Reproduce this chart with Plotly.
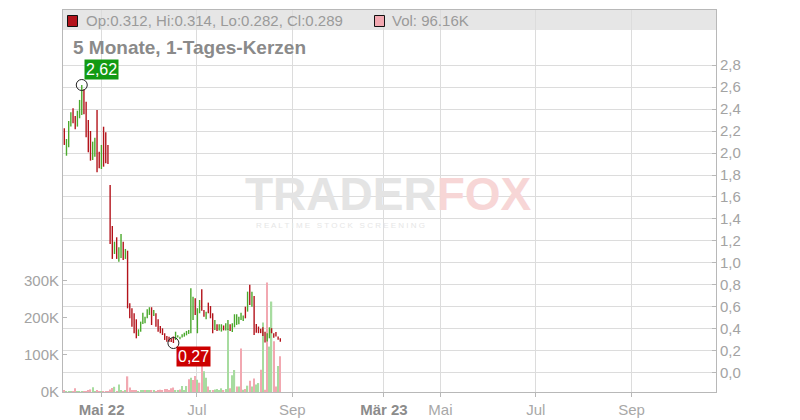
import plotly.graph_objects as go

# ---------------- data ----------------
open_ = [2.20, 2.00, 2.10, 2.26, 2.39, 2.32, 2.25, 2.33, 2.36, 2.57,
         2.45, 2.28, 2.18, 1.95, 1.98, 2.37, 2.00, 1.87, 2.22, 2.17,
         2.06, 1.70, 1.32, 1.09, 1.22, 1.02, 1.06, 1.18, 1.04, 1.10,
         0.62, 0.58, 0.53, 0.48, 0.34, 0.38, 0.45, 0.46, 0.50, 0.53,
         0.59, 0.52, 0.53, 0.48, 0.42, 0.40, 0.355, 0.33, 0.325, 0.31,
         0.325, 0.30, 0.325, 0.31, 0.325, 0.33, 0.345, 0.355, 0.37, 0.49,
         0.67, 0.37, 0.55, 0.75, 0.565, 0.49, 0.63, 0.60, 0.535, 0.39,
         0.44, 0.39, 0.38, 0.425, 0.39, 0.39, 0.435, 0.375, 0.42, 0.44,
         0.445, 0.485, 0.475, 0.595, 0.56, 0.79, 0.61, 0.69, 0.44, 0.415,
         0.395, 0.41, 0.37, 0.29, 0.32, 0.40, 0.355, 0.365, 0.325, 0.312]
high = [2.226, 2.128, 2.292, 2.372, 2.408, 2.338, 2.386, 2.484, 2.62, 2.581,
        2.468, 2.301, 2.201, 2.104, 2.140, 2.393, 2.013, 2.074, 2.240, 2.19,
        2.074, 1.709, 1.336, 1.193, 1.233, 1.142, 1.263, 1.193, 1.127, 1.111,
        0.632, 0.587, 0.541, 0.486, 0.395, 0.465, 0.546, 0.51, 0.577, 0.596,
        0.596, 0.571, 0.541, 0.486, 0.425, 0.404, 0.359, 0.334, 0.328, 0.313,
        0.33, 0.373, 0.34, 0.328, 0.35, 0.364, 0.38, 0.389, 0.769, 0.692,
        0.677, 0.587, 0.662, 0.76, 0.571, 0.556, 0.638, 0.607, 0.541, 0.48,
        0.441, 0.44, 0.441, 0.43, 0.45, 0.48, 0.44, 0.45, 0.532, 0.532,
        0.51, 0.546, 0.52, 0.601, 0.738, 0.80, 0.738, 0.699, 0.443, 0.42,
        0.40, 0.413, 0.373, 0.36, 0.413, 0.405, 0.359, 0.37, 0.33, 0.314]
low = [2.074, 1.976, 2.053, 2.241, 2.271, 2.217, 2.241, 2.317, 2.347, 2.353,
       2.144, 2.007, 1.931, 1.937, 1.967, 1.825, 1.862, 1.855, 1.876, 1.907,
       1.90, 1.172, 1.036, 1.081, 1.036, 1.011, 1.045, 1.026, 1.036, 0.586,
       0.495, 0.419, 0.359, 0.313, 0.334, 0.373, 0.443, 0.45, 0.495, 0.526,
       0.434, 0.516, 0.419, 0.373, 0.359, 0.343, 0.298, 0.282, 0.282, 0.28,
       0.27, 0.298, 0.32, 0.305, 0.32, 0.328, 0.34, 0.353, 0.359, 0.48,
       0.526, 0.359, 0.541, 0.565, 0.51, 0.486, 0.541, 0.495, 0.359, 0.389,
       0.38, 0.385, 0.374, 0.385, 0.385, 0.389, 0.38, 0.37, 0.413, 0.435,
       0.44, 0.48, 0.47, 0.495, 0.556, 0.617, 0.601, 0.343, 0.364, 0.36,
       0.36, 0.334, 0.275, 0.285, 0.313, 0.359, 0.318, 0.33, 0.30, 0.282]
close = [2.09, 2.11, 2.27, 2.36, 2.29, 2.23, 2.37, 2.47, 2.58, 2.37,
         2.16, 2.02, 1.95, 2.09, 2.12, 1.85, 1.88, 2.06, 1.90, 1.92,
         1.91, 1.19, 1.05, 1.18, 1.05, 1.13, 1.24, 1.04, 1.11, 0.60,
         0.51, 0.43, 0.37, 0.32, 0.39, 0.46, 0.54, 0.50, 0.57, 0.59,
         0.44, 0.56, 0.43, 0.38, 0.365, 0.35, 0.305, 0.29, 0.29, 0.285,
         0.28, 0.37, 0.335, 0.325, 0.345, 0.36, 0.375, 0.385, 0.75, 0.68,
         0.53, 0.58, 0.65, 0.57, 0.515, 0.55, 0.545, 0.50, 0.365, 0.47,
         0.385, 0.435, 0.435, 0.39, 0.445, 0.475, 0.385, 0.445, 0.525, 0.525,
         0.505, 0.54, 0.515, 0.50, 0.73, 0.62, 0.73, 0.35, 0.37, 0.365,
         0.365, 0.34, 0.275, 0.355, 0.405, 0.365, 0.325, 0.335, 0.305, 0.289]
volume_k = [3, 1, 1, 0.5, 1, 10, 1, 0.5, 1, 1,
            0.5, 5, 7, 13, 2, 5, 1, 1, 1, 0.5,
            1, 7, 11, 14, 2, 20, 3, 2, 3, 42,
            12, 4, 3, 3, 2, 5, 5, 3, 5, 5,
            3, 4, 2, 3, 6, 4, 8, 8, 5, 10,
            12, 4, 5, 7, 16, 5, 16, 34, 38, 32,
            43, 33, 25, 72, 56, 38, 15, 3, 5, 7,
            8, 4, 10, 3, 8, 170, 10, 45, 59, 15,
            15, 117, 6, 8, 17, 30, 15, 36, 20, 24,
            60, 187, 6, 294, 122, 243, 136, 15, 70, 96.16]
vol_up = [0, 1, 1, 1, 0, 0, 1, 1, 1, 0,
          0, 0, 0, 1, 1, 0, 0, 1, 0, 0,
          0, 0, 0, 1, 0, 1, 1, 0, 1, 0,
          0, 0, 0, 0, 1, 1, 1, 0, 1, 1,
          0, 1, 0, 0, 0, 0, 0, 0, 0, 0,
          0, 1, 1, 0, 1, 1, 1, 0, 1, 0,
          0, 1, 0, 0, 1, 1, 0, 1, 0, 1,
          1, 1, 1, 0, 1, 1, 0, 1, 1, 0,
          1, 0, 1, 0, 1, 0, 1, 0, 1, 1,
          0, 1, 0, 0, 1, 1, 0, 0, 1, 0]
# x ticks in trading-day index units
x_tick_pos = [17.1, 60.8, 104.5, 146.5, 172.4, 216.1, 260.0]
x_tick_text = ["Mai 22", "Jul", "Sep", "Mär 23", "Mai", "Jul", "Sep"]
x_tick_major = [True, False, False, True, False, False, False]
price_ticks = [0.0, 0.2, 0.4, 0.6, 0.8, 1.0, 1.2, 1.4, 1.6, 1.8, 2.0, 2.2, 2.4, 2.6, 2.8]
vol_ticks = [0, 100000, 200000, 300000]
vol_tick_text = ["0K", "100K", "200K", "300K"]
title_text = "5 Monate, 1-Tages-Kerzen"

# ---------------- styling ----------------
FONT = "Liberation Sans, Arial, sans-serif"
GREEN = "#4aa92c"
RED = "#b3131b"
VGREEN = "#a7dca0"
VRED = "#f2a8b1"
GRID = "#dcdcdc"
AXIS = "#b8b8b8"
TXT = "#a3a3a3"

x = list(range(len(close)))
volume = [v * 1000 for v in volume_k]

# page body has an 8px margin; plot box in window pixels: x 63..716, y 10..392
OFF = 8
W, H = 800 - OFF, 420 - OFF
PL, PR, PT, PB = 63, 716, 10, 392
PW, PH = PR - PL, PB - PT
L, T = PL - OFF, PT - OFF
R, B = W - (PR - OFF), H - (PB - OFF)


def px(xp):
    return (xp - PL) / PW


def py(yp):
    return (PB - yp) / PH


fig = go.Figure()

fig.add_trace(go.Bar(
    x=x, y=volume, yaxis="y", xaxis="x",
    marker=dict(color=[VGREEN if u else VRED for u in vol_up], line=dict(width=0)),
    width=0.6, hoverinfo="skip",
))

fig.add_trace(go.Ohlc(
    x=x, open=open_, high=high, low=low, close=close,
    xaxis="x", yaxis="y2", tickwidth=0,
    increasing=dict(line=dict(color=GREEN, width=1.4)),
    decreasing=dict(line=dict(color=RED, width=1.4)),
))

imax = max(range(len(high)), key=lambda i: high[i])
imin = min(range(len(low)), key=lambda i: low[i])

fig.add_trace(go.Scatter(
    x=[imax, imin], y=[high[imax], low[imin]], xaxis="x", yaxis="y2",
    mode="markers",
    marker=dict(symbol="circle-open", size=11, color="#222222", line=dict(width=1)),
    hoverinfo="skip",
))

annotations = [
    dict(x=imax, y=high[imax], xref="x", yref="y2",
         text=f"{high[imax]:.2f}".replace(".", ","), showarrow=False,
         xanchor="left", yanchor="bottom", xshift=2, yshift=5,
         bgcolor="#129a12", borderpad=1,
         font=dict(family=FONT, size=16, color="white")),
    dict(x=imin, y=low[imin], xref="x", yref="y2",
         text=f"{low[imin]:.2f}".replace(".", ","), showarrow=False,
         xanchor="left", yanchor="top", xshift=3, yshift=-3,
         bgcolor="#cc0000", borderpad=1,
         font=dict(family=FONT, size=16, color="white")),
    # header legend texts
    dict(x=px(84), y=py(21), xref="paper", yref="paper", xanchor="left", yanchor="middle",
         text=f"Op:{open_[-1]:.3f}, Hi:{high[-1]:.3f}, Lo:{low[-1]:.3f}, Cl:{close[-1]:.3f}",
         showarrow=False, font=dict(family=FONT, size=15, color="#9a9a9a")),
    dict(x=px(390), y=py(21), xref="paper", yref="paper", xanchor="left", yanchor="middle",
         text=f"Vol: {volume_k[-1]:.2f}K", showarrow=False,
         font=dict(family=FONT, size=15, color="#9a9a9a")),
    # title
    dict(x=px(71), y=py(47.5), xref="paper", yref="paper", xanchor="left", yanchor="middle",
         text=f"<b>{title_text}</b>", showarrow=False,
         font=dict(family=FONT, size=19, color="#8a8a8a")),
    # watermark
    dict(x=px(388), y=py(194), xref="paper", yref="paper", xanchor="center", yanchor="middle",
         text="<b><span style='color:#e4e4e4'>TRADER</span><span style='color:#f7d6d6'>FOX</span></b>",
         showarrow=False, font=dict(family=FONT, size=46)),
    dict(x=px(340), y=py(226), xref="paper", yref="paper", xanchor="center", yanchor="middle",
         text="R E A L T I M E   S T O C K   S C R E E N I N G", showarrow=False,
         font=dict(family=FONT, size=8, color="#e6e6e6")),
]

shapes = [
    dict(type="rect", xref="paper", yref="paper", x0=0, x1=1, y0=py(30), y1=1,
         fillcolor="#e6e6e6", line=dict(width=0), layer="below"),
    dict(type="rect", xref="paper", yref="paper", x0=px(67.5), x1=px(77.5),
         y0=py(26.5), y1=py(15.5), fillcolor=RED, line=dict(color="#111111", width=1), layer="above"),
    dict(type="rect", xref="paper", yref="paper", x0=px(374.5), x1=px(384.5),
         y0=py(26.5), y1=py(15.5), fillcolor=VRED, line=dict(color="#111111", width=1), layer="above"),
]

ticktext = [
    f"<b><span style='color:#8c8c8c'>{t}</span></b>" if m else t
    for t, m in zip(x_tick_text, x_tick_major)
]

fig.update_layout(
    width=W, height=H,
    margin=dict(l=L, r=R, t=T, b=B, autoexpand=False),
    paper_bgcolor="white", plot_bgcolor="white",
    showlegend=False,
    separators=",.",
    font=dict(family=FONT, size=15, color=TXT),
    annotations=annotations,
    shapes=shapes,
    xaxis=dict(
        range=[-0.6, 298.7], tickmode="array", tickvals=x_tick_pos, ticktext=ticktext,
        showgrid=True, gridcolor=GRID, gridwidth=1,
        showline=True, linecolor=AXIS, mirror=True,
        ticks="outside", ticklen=4, tickcolor=AXIS,
        zeroline=False, rangeslider=dict(visible=False),
        tickfont=dict(family=FONT, size=15, color="#a8a8a8"),
        automargin=False,
    ),
    yaxis=dict(
        side="left", range=[0, 1026000], tickmode="array",
        tickvals=vol_ticks, ticktext=vol_tick_text,
        showgrid=False, showline=True, linecolor=AXIS,
        ticks="inside", ticklen=4, tickcolor=AXIS, zeroline=False,
        tickfont=dict(family=FONT, size=15, color=TXT),
        automargin=False,
    ),
    yaxis2=dict(
        side="right", overlaying="y", range=[-0.176, 3.303], tickmode="array",
        tickvals=price_ticks, tickformat=".1f",
        showgrid=True, gridcolor=GRID, gridwidth=1,
        showline=True, linecolor=AXIS,
        ticks="inside", ticklen=4, tickcolor=AXIS, zeroline=False,
        tickfont=dict(family=FONT, size=15, color=TXT),
        automargin=False,
    ),
)

fig.write_html("out.html")
